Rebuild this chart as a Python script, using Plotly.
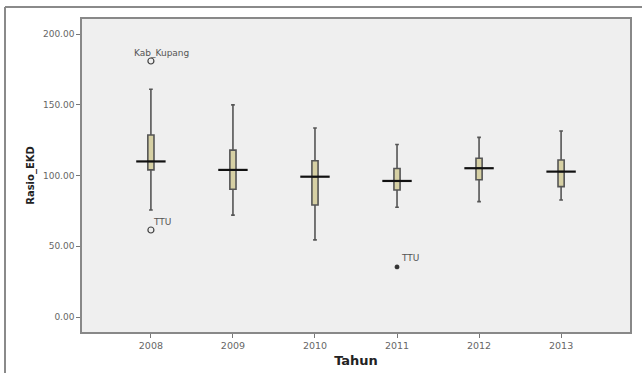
import plotly.graph_objects as go

years = ["2008", "2009", "2010", "2011", "2012", "2013"]
q1 = [104.0, 90.3, 79.2, 89.8, 97.0, 92.2]
median = [110.0, 104.0, 99.2, 96.2, 105.2, 102.8]
q3 = [128.7, 118.0, 110.5, 105.0, 112.2, 111.0]
lower = [75.7, 72.0, 54.5, 77.6, 81.6, 82.7]
upper = [161.0, 150.0, 133.6, 122.0, 127.0, 131.5]

# outliers (circles) and extremes (stars)
out_idx = [0, 0]
out_val = [181.0, 61.5]
out_lab = ["Kab_Kupang", "TTU"]
ext_idx = [3]
ext_val = [35.4]
ext_lab = ["TTU"]

pos = list(range(len(years)))
FONT = "DejaVu Sans, Verdana, sans-serif"

fig = go.Figure()
fig.add_trace(go.Box(
    x=pos, q1=q1, median=median, q3=q3, lowerfence=lower, upperfence=upper,
    width=0.075, whiskerwidth=0.6,
    fillcolor="#d6d0a4", line=dict(color="#555555", width=1.6),
    boxpoints=False, showlegend=False, hoverinfo="skip",
))
# wide median bars
fig.add_trace(go.Scatter(
    x=pos, y=median, mode="markers",
    marker=dict(symbol="line-ew", size=21, line=dict(color="#111111", width=2.2)),
    showlegend=False, hoverinfo="skip",
))
# outliers
fig.add_trace(go.Scatter(
    x=out_idx, y=out_val, mode="markers",
    marker=dict(symbol="circle-open", size=6, color="#444444", line=dict(width=1.2)),
    showlegend=False, hoverinfo="skip",
))
fig.add_trace(go.Scatter(
    x=ext_idx, y=ext_val, mode="markers",
    marker=dict(symbol="asterisk", size=4, color="#333333", line=dict(width=1.5, color="#333333")),
    showlegend=False, hoverinfo="skip",
))

fig.add_annotation(x=out_idx[0], y=out_val[0], text=out_lab[0], showarrow=False,
                   yshift=8, xshift=11, font=dict(family=FONT, size=9, color="#555555"))
fig.add_annotation(x=out_idx[1], y=out_val[1], text=out_lab[1], showarrow=False,
                   yshift=8, xshift=11, font=dict(family=FONT, size=9, color="#555555"))
fig.add_annotation(x=ext_idx[0], y=ext_val[0], text=ext_lab[0], showarrow=False,
                   yshift=9, xshift=13, font=dict(family=FONT, size=9, color="#555555"))

# outer frame (left and top edges visible)
fig.add_shape(type="line", xref="paper", yref="paper",
              x0=-0.1405, x1=-0.1405, y0=-0.2, y1=1.038,
              line=dict(color="#8a8a8a", width=2), layer="below")
fig.add_shape(type="line", xref="paper", yref="paper",
              x0=-0.1405, x1=1.1, y0=1.038, y1=1.038,
              line=dict(color="#8a8a8a", width=2), layer="below")

fig.update_layout(
    width=642, height=373,
    margin=dict(l=82, r=12, t=19, b=41, autoexpand=False),
    paper_bgcolor="white", plot_bgcolor="#efefef",
    font=dict(family=FONT, color="#555555"),
    xaxis=dict(
        range=[-0.84, 5.84], tickmode="array", tickvals=pos, ticktext=years,
        ticks="outside", ticklen=4, tickcolor="#777777", tickfont=dict(size=9.5, color="#666666"),
        showgrid=False, zeroline=False, showline=True, linecolor="#888888", linewidth=1.5, mirror=True,
        automargin=False,
        title=dict(text="<b>Tahun</b>", font=dict(size=13, color="#222222"), standoff=6),
    ),
    yaxis=dict(
        range=[-10.6, 210.7], tickmode="array", tickvals=[0, 50, 100, 150, 200],
        ticktext=["0.00", "50.00", "100.00", "150.00", "200.00"],
        ticks="outside", ticklen=4, tickcolor="#777777", tickfont=dict(size=9, color="#666666"),
        showgrid=False, zeroline=False, showline=True, linecolor="#888888", linewidth=1.5, mirror=True,
        automargin=False,
        title=dict(text="<b>Rasio_EKD</b>", font=dict(size=10, color="#222222"), standoff=6),
    ),
)

fig.write_html("out.html")
